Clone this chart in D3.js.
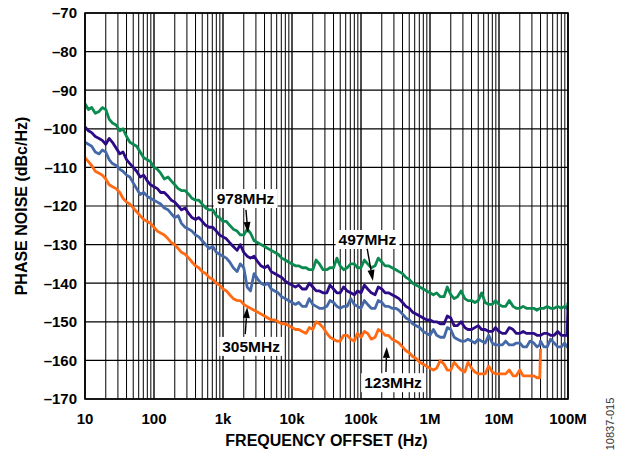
<!DOCTYPE html>
<html>
<head>
<meta charset="utf-8">
<script src="https://cdn.jsdelivr.net/npm/d3@7/dist/d3.min.js"></script>
<style>
  html, body { margin: 0; padding: 0; background: #fff; }
  svg { display: block; font-family: "Liberation Sans", Arial, sans-serif; }
</style>
</head>
<body>
<svg id="chart" width="621" height="457"></svg>
<script>
// ---- data ----
const freqs = [
  10,11.2,12.5,14.1,16,17.8,20,22.4,25,28.2,32,35.5,40,44.7,50,56,63,71,80,89,
  100,112,125,141,160,178,200,224,250,282,320,355,400,447,500,560,630,710,800,890,
  1e3,1.12e3,1.25e3,1.41e3,1.6e3,1.78e3,2e3,2.24e3,2.5e3,2.82e3,3.2e3,3.55e3,4e3,4.47e3,5e3,5.6e3,6.3e3,7.1e3,8e3,8.9e3,
  1e4,1.12e4,1.25e4,1.41e4,1.6e4,1.78e4,2e4,2.24e4,2.5e4,2.82e4,3.2e4,3.55e4,4e4,4.47e4,5e4,5.6e4,6.3e4,7.1e4,8e4,8.9e4,
  1e5,1.12e5,1.25e5,1.41e5,1.6e5,1.78e5,2e5,2.24e5,2.5e5,2.82e5,3.2e5,3.55e5,4e5,4.47e5,5e5,5.6e5,6.3e5,7.1e5,8e5,8.9e5,
  1e6,1.12e6,1.25e6,1.41e6,1.6e6,1.78e6,2e6,2.24e6,2.5e6,2.82e6,3.2e6,3.55e6,4e6,4.47e6,5e6,5.6e6,6.3e6,7.1e6,8e6,8.9e6,
  1e7,1.12e7,1.25e7,1.41e7,1.6e7,1.78e7,2e7,2.24e7,2.5e7,2.82e7,3.2e7,3.55e7,3.9e7,4e7,4.47e7,5e7,5.6e7,6.3e7,7.1e7,8e7,8.9e7,9.7e7,1e8];

const pn978 = [
  -93.5,-95,-94.5,-96,-95.5,-94.5,-95,-97.5,-98.5,-99,-100.5,-100,-102,-103.5,-104,-104.5,-106,-107.5,-108,-108.5,
  -110,-110.5,-111.5,-113,-112.5,-113.5,-114.5,-115.5,-116,-116,-117,-118,-118.5,-118.5,-119.5,-120.5,-121,-121,-122.5,-123,
  -124,-124,-125,-126,-126.5,-127.5,-127.5,-126,-127,-129,-129.5,-130,-130.5,-131,-131.5,-132,-132.5,-133.5,-134,-134.5,
  -135,-135.5,-135.5,-136,-136,-136.5,-136.5,-134,-135,-136.5,-136.5,-136,-136,-133.5,-135.5,-136.5,-136,-135,-135,-136,
  -136,-134,-135,-136,-135.5,-133.5,-134.5,-135.5,-135.5,-136,-136.5,-137,-137.5,-138.5,-139,-140,-140.5,-141,-141.5,-142,
  -142.5,-143,-142.5,-143.5,-143.5,-141,-143,-144,-143.5,-142,-144,-144.5,-144.5,-145,-144.5,-142.5,-145,-145.5,-145.5,-144.5,
  -145.5,-146,-146,-144.5,-146,-146.5,-146.5,-146,-146.5,-146.5,-146.5,-147,-146.5,-146.5,-146.5,-146,-146.5,-146.5,-146,-146.5,-146,-146.5,-145];

const pn497 = [
  -99.5,-100.5,-101,-102,-102.5,-103,-104,-102.5,-103.5,-105,-106.5,-106,-108,-109,-110,-111,-112.5,-112,-113.5,-114.5,
  -115,-115.5,-116.5,-116.5,-117.5,-118.5,-119,-120,-121,-120.5,-122,-123,-123.5,-123,-124,-125,-125.5,-125.5,-126.5,-127.5,
  -128,-128.5,-129.5,-130.5,-131.5,-130,-132,-133,-133.5,-133,-134.5,-135.5,-136,-135.5,-137,-137.5,-138,-138.5,-139.5,-140,
  -140.5,-141,-140.5,-141.5,-141.5,-140,-141,-142,-142,-142.5,-142.5,-140.5,-141.5,-142.5,-142.5,-141,-142,-142.5,-143,-142,
  -142.5,-140.5,-141.5,-142.5,-143,-141,-141.5,-142.5,-142.5,-143,-143.5,-144,-145,-146,-146.5,-147.5,-148,-148.5,-149,-149.5,
  -149.5,-150,-150,-150.5,-150.5,-148.5,-149,-151,-151,-150,-151.5,-152,-152,-151.5,-151,-152,-152,-152.5,-152.5,-151.5,
  -152.5,-153,-153,-151.5,-152,-153,-153,-152.5,-153,-153,-153,-153.5,-153.5,-153.5,-153,-153,-153.5,-153.5,-152.5,-153.5,-153.5,-153.5,-146];

const pn305 = [
  -103.5,-104,-104.5,-106,-106.5,-105.5,-106,-108,-109,-109.5,-110.5,-111,-112,-112.5,-114,-115.5,-117,-116.5,-117.5,-118,
  -118.5,-119,-119.5,-120.5,-121,-122,-123,-122.5,-124.5,-125.5,-126,-126.5,-127.5,-128,-129,-130,-131,-130.5,-132,-132.5,
  -133,-133.5,-134.5,-136,-137,-135,-136,-141,-142,-137.5,-139,-140,-140.5,-140,-141.5,-142,-142.5,-143.5,-144,-144.5,
  -145,-145.5,-145,-146,-146,-144,-145.5,-146,-146.5,-146.5,-146,-144.5,-145,-146,-146.5,-146,-146,-144,-145.5,-146,
  -146.5,-144.5,-145.5,-146.5,-146.5,-144.5,-145,-146,-146,-146.5,-146.5,-147,-148,-149,-149.5,-150.5,-151,-151.5,-152.5,-153,
  -153.5,-152,-153.5,-154,-154,-151.5,-152,-154,-154.5,-155,-155,-154.5,-155,-155.5,-154.5,-155,-155.5,-153.5,-155.5,-156,
  -156,-156,-155,-156,-156,-155.5,-155.5,-156.5,-156.5,-155,-155.5,-156.5,-156,-155,-156.5,-156.5,-154.5,-155.5,-156.5,-156.5,-155.5,-156.5,-156];

const pn123 = [
  -107.5,-108.5,-109.5,-111,-111.5,-112,-113,-114.5,-115,-115.5,-116.5,-118,-119,-119.5,-120.5,-121.5,-122.5,-123.5,-124,-124.5,
  -125.5,-126.5,-127,-127.5,-128.5,-129.5,-130,-131,-132,-132.5,-133.5,-134.5,-135.5,-136,-137,-137.5,-138.5,-139,-140,-140.5,
  -141.5,-142,-143,-144,-144.5,-144.5,-145.5,-146,-146.5,-147,-147.5,-148,-148.5,-149,-149.5,-149.5,-150,-150.5,-150.5,-151,
  -151.5,-152,-152,-152.5,-153,-151.5,-152,-150,-150.5,-151.5,-153,-154,-154.5,-155,-155,-153.5,-153.5,-154.5,-155,-153,
  -154,-152.5,-153,-154.5,-154,-152,-152.5,-153.5,-153.5,-154.5,-155,-155.5,-156.5,-157.5,-158,-159,-159.5,-160.5,-161,-161.5,
  -162,-162.5,-162,-160,-161,-162.5,-162.5,-160.5,-161.5,-162.5,-163,-160.5,-162,-163,-163.5,-163.5,-163.5,-161.5,-163,-163.5,
  -163.5,-163.5,-163.5,-162.5,-164,-164,-162.5,-164,-164,-164,-164,-164.5,-164.5,-157,null,null,null,null,null,null,null,null,null];

const seriesNames = ["978MHz","497MHz","305MHz","123MHz"];
const seriesColors = ["#0b8a50","#2d0a86","#4468a8","#ff6a13"];
const seriesValues = [pn978, pn497, pn305, pn123];

const xTickValues = [10,100,1e3,1e4,1e5,1e6,1e7,1e8];
const xTickLabels = ["10","100","1k","10k","100k","1M","10M","100M"];
const yTickValues = [-70,-80,-90,-100,-110,-120,-130,-140,-150,-160,-170];

// annotations: label position (freq, dB baseline) and arrow from -> to
const annLabels = ["978MHz","497MHz","305MHz","123MHz"];
const annText  = [[2120,-119.5],[124000,-130.1],[2550,-157.8],[291000,-167.2]];
const annFrom  = [[2150,-121.0],[123000,-131.1],[2100,-153.2],[230000,-163.0]];
const annTo    = [[2300,-127.0],[149000,-139.4],[2240,-146.2],[236000,-156.5]];

// ---- layout ----
const svg = d3.select("#chart");
const m = {left: 85, top: 13, right: 53, bottom: 58};
const W = 621 - m.left - m.right, H = 457 - m.top - m.bottom;
const g = svg.append("g").attr("transform", `translate(${m.left},${m.top})`);

const x = d3.scaleLog().domain([10, 1e8]).range([0, W]);
const y = d3.scaleLinear().domain([-170, -70]).range([H, 0]);

// grid: vertical
const vTicks = [];
for (let d = 10; d < 1e8; d *= 10) for (let k = 1; k <= 9; k++) vTicks.push(d * k);
vTicks.push(1e8);
g.append("g").selectAll("line").data(vTicks).join("line")
  .attr("x1", d => x(d)).attr("x2", d => x(d))
  .attr("y1", 0).attr("y2", H)
  .attr("stroke", "#000")
  .attr("stroke-width", d => xTickValues.includes(d) ? 1.4 : 1);
// grid: horizontal
g.append("g").selectAll("line").data(yTickValues).join("line")
  .attr("x1", 0).attr("x2", W)
  .attr("y1", d => y(d)).attr("y2", d => y(d))
  .attr("stroke", "#000").attr("stroke-width", 1.2);

// curves
g.append("clipPath").attr("id", "clip").append("rect")
  .attr("x", 0).attr("y", 0).attr("width", W).attr("height", H);
const line = d3.line()
  .defined(d => d[1] != null)
  .x(d => x(d[0])).y(d => y(d[1]));
const curves = g.append("g").attr("clip-path", "url(#clip)");
seriesValues.forEach((vals, i) => {
  curves.append("path")
    .datum(freqs.map((f, j) => [f, vals[j]]))
    .attr("d", line)
    .attr("fill", "none")
    .attr("stroke", seriesColors[i])
    .attr("stroke-width", 2.8)
    .attr("stroke-linejoin", "round");
});

// border
g.append("rect").attr("x", 0).attr("y", 0).attr("width", W).attr("height", H)
  .attr("fill", "none").attr("stroke", "#000").attr("stroke-width", 1.6);

// axes labels
g.append("g").selectAll("text").data(yTickValues).join("text")
  .attr("x", -8).attr("y", d => y(d)).attr("dy", "0.36em")
  .attr("text-anchor", "end")
  .attr("font-size", 15).attr("font-weight", "bold")
  .text(d => "\u2013" + Math.abs(d));
g.append("g").selectAll("text").data(xTickValues).join("text")
  .attr("x", d => x(d)).attr("y", H + 25)
  .attr("text-anchor", "middle")
  .attr("font-size", 15).attr("font-weight", "bold")
  .text((d, i) => xTickLabels[i]);

svg.append("text")
  .attr("x", m.left + W / 2).attr("y", 446)
  .attr("text-anchor", "middle").attr("font-size", 16).attr("font-weight", "bold")
  .text("FREQUENCY OFFSET (Hz)");
svg.append("text")
  .attr("transform", `translate(27,${m.top + H / 2}) rotate(-90)`)
  .attr("text-anchor", "middle").attr("font-size", 16).attr("font-weight", "bold")
  .text("PHASE NOISE (dBc/Hz)");
svg.append("text")
  .attr("transform", `translate(614,424) rotate(-90)`)
  .attr("text-anchor", "middle").attr("font-size", 11).attr("fill", "#333")
  .text("10837-015");

// annotations
const ann = g.append("g");
annLabels.forEach((lab, i) => {
  const tx = x(annText[i][0]), ty = y(annText[i][1]);
  const t = ann.append("text")
    .attr("x", tx).attr("y", ty)
    .attr("text-anchor", "middle").attr("font-size", 15.5).attr("font-weight", "bold")
    .text(lab);
  const bb = t.node().getBBox();
  ann.insert("rect", "text")
    .attr("x", bb.x - 3).attr("y", bb.y - 1)
    .attr("width", bb.width + 6).attr("height", bb.height + 2)
    .attr("fill", "#fff");
  const x1 = x(annFrom[i][0]), y1 = y(annFrom[i][1]);
  const x2 = x(annTo[i][0]), y2 = y(annTo[i][1]);
  const ang = Math.atan2(y2 - y1, x2 - x1);
  const hl = 11, hw = 3.5;
  const bx = x2 - hl * Math.cos(ang), by = y2 - hl * Math.sin(ang);
  ann.append("line").attr("x1", x1).attr("y1", y1).attr("x2", bx).attr("y2", by)
    .attr("stroke", "#000").attr("stroke-width", 1.4);
  ann.append("path")
    .attr("d", `M${x2},${y2}L${bx + hw * Math.sin(ang)},${by - hw * Math.cos(ang)}L${bx - hw * Math.sin(ang)},${by + hw * Math.cos(ang)}Z`)
    .attr("fill", "#000");
});
</script>
</body>
</html>
